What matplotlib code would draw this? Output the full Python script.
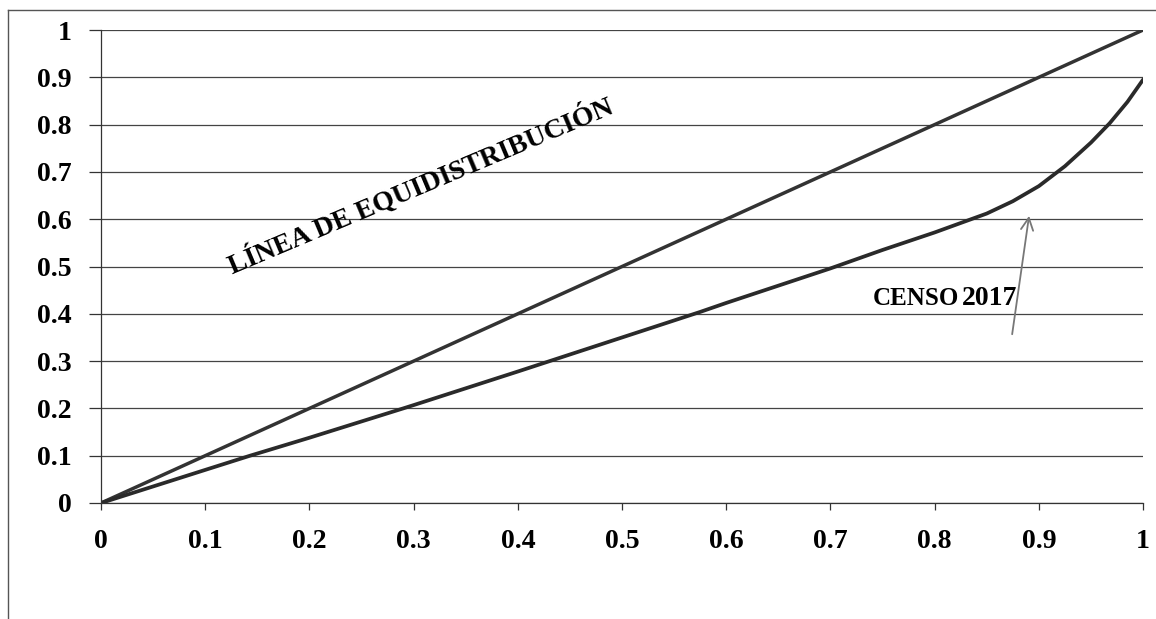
import matplotlib.pyplot as plt
from matplotlib.lines import Line2D

# Lorenz curve (cumulative population share vs. income share)
pop_share = [0.0, 0.05, 0.1, 0.143, 0.2, 0.29, 0.3, 0.4, 0.5, 0.575, 0.6, 0.7,
             0.75, 0.8, 0.85, 0.875, 0.9, 0.925, 0.95, 0.968, 0.985, 1.0]
income_share = [0.0, 0.035, 0.07, 0.1, 0.138, 0.2, 0.207, 0.278, 0.35, 0.404, 0.423, 0.496,
                0.535, 0.572, 0.612, 0.638, 0.67, 0.712, 0.762, 0.803, 0.848, 0.895]
equality_x = [0.0, 1.0]
equality_y = [0.0, 1.0]

ticks = [0, 0.1, 0.2, 0.3, 0.4, 0.5, 0.6, 0.7, 0.8, 0.9, 1]
tick_labels = ["0", "0.1", "0.2", "0.3", "0.4", "0.5", "0.6", "0.7", "0.8", "0.9", "1"]

plt.rcParams["font.family"] = ["Liberation Serif", "DejaVu Serif"]

fig = plt.figure(figsize=(11.56, 6.19), dpi=100)
ax = fig.add_axes([0.0874, 0.1874, 0.9014, 0.7641])

ax.plot(equality_x, equality_y, color="#333333", lw=2.5, solid_capstyle="round")
ax.plot(pop_share, income_share, color="#2a2a2a", lw=2.7, solid_capstyle="round",
        solid_joinstyle="round")

ax.set_xlim(0, 1)
ax.set_ylim(0, 1)
ax.set_xticks(ticks)
ax.set_xticklabels(tick_labels)
ax.set_yticks(ticks)
ax.set_yticklabels(tick_labels)
ax.yaxis.grid(True, color="#444444", lw=0.9)
ax.set_axisbelow(True)

for side in ["top", "right"]:
    ax.spines[side].set_visible(False)
ax.spines["left"].set_color("#333333")
ax.spines["bottom"].set_color("#333333")
ax.spines["left"].set_linewidth(0.9)
ax.spines["bottom"].set_linewidth(0.9)

ax.tick_params(axis="y", direction="out", length=9, width=0.9, color="#333333", pad=12,
               labelsize=20)
ax.tick_params(axis="x", direction="out", length=5, width=0.9, color="#333333", pad=14,
               labelsize=20)
for lab in ax.get_xticklabels() + ax.get_yticklabels():
    lab.set_fontweight("bold")

ax.text(0.307, 0.67, "LÍNEA DE EQUIDISTRIBUCIÓN", rotation=22.9, rotation_mode="anchor",
        ha="center", va="center", fontsize=20, fontweight="bold")
ax.text(0.741, 0.419, "CENSO", ha="left", va="baseline", fontsize=18, fontweight="bold")
ax.text(0.826, 0.419, "2017", ha="left", va="baseline", fontsize=20, fontweight="bold")
ax.annotate("", xy=(0.891, 0.613), xytext=(0.874, 0.351),
            arrowprops=dict(arrowstyle="->", color="#777777", lw=1.3,
                            mutation_scale=22))

# outer frame of the scanned chart area
fig.add_artist(Line2D([8 / 1156, 8 / 1156], [0, 1 - 10 / 619], color="#555555", lw=1.0))
fig.add_artist(Line2D([8 / 1156, 1], [1 - 10 / 619, 1 - 10 / 619], color="#555555", lw=1.0))

fig.savefig("out.png", dpi=100)
